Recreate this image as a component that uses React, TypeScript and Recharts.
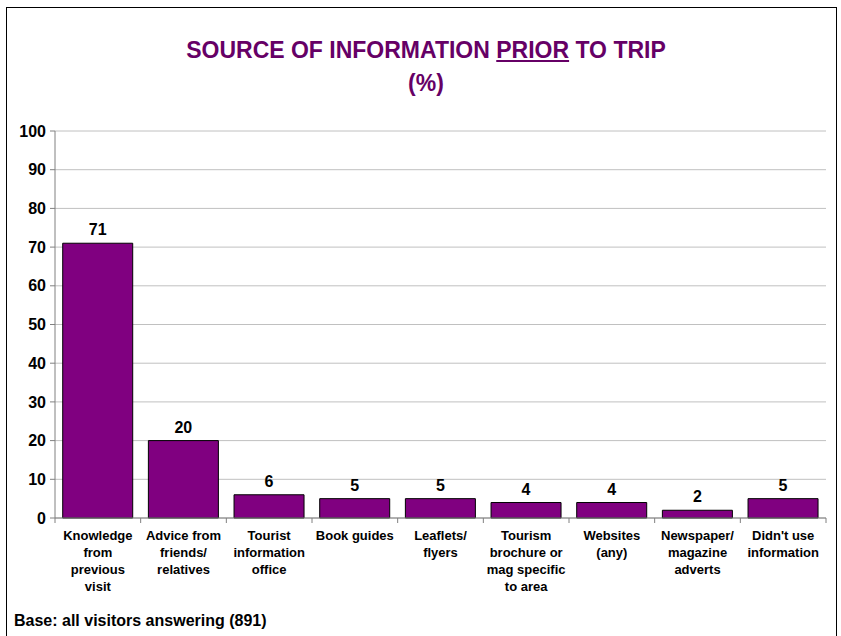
import { BarChart, Bar, XAxis, YAxis, CartesianGrid, LabelList } from "recharts";

const categories = [
  "Knowledge\nfrom\nprevious\nvisit",
  "Advice from\nfriends/\nrelatives",
  "Tourist\ninformation\noffice",
  "Book guides",
  "Leaflets/\nflyers",
  "Tourism\nbrochure or\nmag specific\nto area",
  "Websites\n(any)",
  "Newspaper/\nmagazine\nadverts",
  "Didn't use\ninformation"
];

const percentages = [71, 20, 6, 5, 5, 4, 4, 2, 5];

const yTicks = [0, 10, 20, 30, 40, 50, 60, 70, 80, 90, 100];

const data = categories.map((name, i) => ({ name, value: percentages[i] }));

const W = 841;
const H = 636;
const MARGIN = { top: 131, right: 15, left: 0, bottom: 0 };
const Y_WIDTH = 55;
const BAND = (W - MARGIN.left - MARGIN.right - Y_WIDTH) / categories.length;
const FONT = "'Liberation Sans', Arial, sans-serif";

function CategoryTick(props: any) {
  const { x, y, payload, index } = props;
  const lines = String(payload.value).split("\n");
  const isLast = index === categories.length - 1;
  return (
    <g>
      <line x1={x - BAND / 2} y1={y} x2={x - BAND / 2} y2={y + 5} stroke="#808080" />
      {isLast && <line x1={x + BAND / 2} y1={y} x2={x + BAND / 2} y2={y + 5} stroke="#808080" />}
      <text x={x} y={y + 22} textAnchor="middle" fontSize={13} fontWeight="bold" fill="#000" fontFamily={FONT}>
        {lines.map((l, i) => (
          <tspan key={i} x={x} dy={i === 0 ? 0 : 17}>
            {l}
          </tspan>
        ))}
      </text>
    </g>
  );
}

export default function App() {
  return (
    <div style={{ position: "absolute", left: 0, top: 0, width: W, height: H, overflow: "hidden", background: "#fff", fontFamily: FONT }}>
      <div style={{ position: "absolute", left: 6, top: 7, width: 829, height: 700, border: "1px solid #000" }} />
      <div style={{ position: "absolute", left: 6, top: 34, width: 840, textAlign: "center", color: "#660066", fontWeight: "bold", fontSize: 23, lineHeight: "33px" }}>
        <div>
          SOURCE OF INFORMATION <span style={{ textDecoration: "underline" }}>PRIOR</span> TO TRIP
        </div>
        <div>(%)</div>
      </div>
      <div style={{ position: "absolute", left: 0, top: 0 }}>
        <BarChart width={W} height={H} data={data} margin={MARGIN} barCategoryGap="9%">
          <CartesianGrid vertical={false} stroke="#c0c0c0" />
          <XAxis
            dataKey="name"
            interval={0}
            height={H - 518}
            axisLine={{ stroke: "#808080" }}
            tickLine={false}
            tickSize={0}
            tickMargin={0}
            tick={<CategoryTick />}
          />
          <YAxis
            width={Y_WIDTH}
            domain={[0, 100]}
            ticks={yTicks}
            interval={0}
            axisLine={{ stroke: "#808080" }}
            tickLine={{ stroke: "#808080" }}
            tickSize={5}
            tickMargin={4}
            tick={{ fontSize: 16, fontWeight: "bold", fill: "#000", fontFamily: FONT }}
          />
          <Bar dataKey="value" fill="#800080" stroke="#000" strokeWidth={1} isAnimationActive={false}>
            <LabelList dataKey="value" position="top" offset={8} fontSize={16} fontWeight="bold" fill="#000" fontFamily={FONT} />
          </Bar>
        </BarChart>
      </div>
      <div style={{ position: "absolute", left: 14, top: 612, fontSize: 16, fontWeight: "bold", color: "#000" }}>
        Base: all visitors answering (891)
      </div>
    </div>
  );
}
